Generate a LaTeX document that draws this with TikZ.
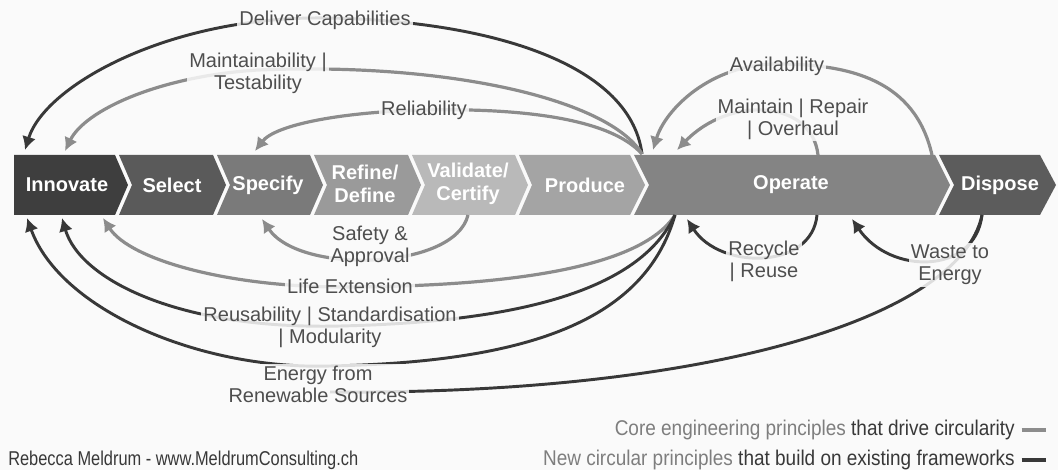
\documentclass[tikz,border=0pt]{standalone}
\usepackage{fontspec}
\setmainfont{Liberation Sans}
\newfontfamily\narrowfont[FakeStretch=0.82]{Liberation Sans}
\newfontfamily\keyfont[FakeStretch=0.89]{Liberation Sans}
\usetikzlibrary{arrows.meta}

\definecolor{bgcol}{HTML}{FAFAFA}
\definecolor{txtcol}{HTML}{4E4E4E}
\definecolor{corecol}{HTML}{8C8C8C}
\definecolor{newcol}{HTML}{383838}
\definecolor{legcol}{HTML}{7E7E7E}
\definecolor{innocol}{HTML}{3E3E3E}
\definecolor{selcol}{HTML}{5A5A5A}
\definecolor{speccol}{HTML}{7A7A7A}
\definecolor{refcol}{HTML}{9A9A9A}
\definecolor{valcol}{HTML}{B9B9B9}
\definecolor{prodcol}{HTML}{A4A4A4}
\definecolor{opcol}{HTML}{848484}
\definecolor{dispcol}{HTML}{5C5C5C}

\begin{document}
\begin{tikzpicture}[x=0.75pt, y=-0.75pt,
    core/.style={draw=corecol, line width=2.4pt},
    newp/.style={draw=newcol, line width=2.2pt},
    tip/.style={-{Latex[length=10pt,width=10.5pt]}},
    lbl/.style={fill=bgcol, fill opacity=0.85, text opacity=1, text=txtcol,
        align=center, inner sep=1.5pt, font=\fontsize{15}{16.5}\selectfont},
    stage/.style={text=white, align=center, inner sep=0pt,
        font=\bfseries\fontsize{15}{17}\selectfont}]

    \fill[bgcol] (0,0) rectangle (1058,470);
    \useasboundingbox (0,0) rectangle (1058,470);

    % stages
    \fill[innocol] (14,155) -- (115,155) -- (128,185) -- (115,215) -- (14,215) -- cycle;
    \fill[selcol] (119,155) -- (213,155) -- (226,185) -- (213,215) -- (119,215) -- (132,185) -- cycle;
    \fill[speccol] (217,155) -- (310,155) -- (323,185) -- (310,215) -- (217,215) -- (230,185) -- cycle;
    \fill[refcol] (314,155) -- (408,155) -- (421,185) -- (408,215) -- (314,215) -- (327,185) -- cycle;
    \fill[valcol] (412,155) -- (515,155) -- (528,185) -- (515,215) -- (412,215) -- (425,185) -- cycle;
    \fill[prodcol] (519,155) -- (630,155) -- (645,185) -- (630,215) -- (519,215) -- (532,185) -- cycle;
    \fill[opcol] (634,155) -- (935,155) -- (950,185) -- (935,215) -- (634,215) -- (649,185) -- cycle;
    \fill[dispcol] (939,155) -- (1040,155) -- (1056,185) -- (1040,215) -- (939,215) -- (954,185) -- cycle;

    \node[stage] (innovate) at (67,185) {Innovate};
    \node[stage] (select) at (172,185) {Select};
    \node[stage] (specify) at (268,185) {Specify};
    \node[stage] (refine) at (365,184) {Refine/\\Define};
    \node[stage] (validate) at (468,184) {Validate/\\Certify};
    \node[stage] (produce) at (585,185) {Produce};
    \node[stage] (operate) at (791,185) {Operate};
    \node[stage] (dispose) at (1000,185) {Dispose};

    % ends of the loops
    \coordinate (op-a) at (642,154);
    \coordinate (op-b) at (675,215);
    \coordinate (inno-t1) at (25,150);
    \coordinate (inno-t2) at (65,151);
    \coordinate (spec-t) at (255,151);
    \coordinate (op-t1) at (653,150);
    \coordinate (op-t2) at (677,150);
    \coordinate (op-t3) at (818,155);
    \coordinate (op-t4) at (932,155);
    \coordinate (val-b) at (468,215);
    \coordinate (spec-b) at (262,219);
    \coordinate (inno-b1) at (27,218);
    \coordinate (inno-b2) at (62,218);
    \coordinate (inno-b3) at (103,218);
    \coordinate (op-b2) at (817,215);
    \coordinate (op-b3) at (687,219);
    \coordinate (op-b4) at (852,219);
    \coordinate (disp-b) at (982,215);

    % loops above the stages
    \draw[newp, tip] (op-a) .. controls (630,60) and (480,20) .. (325,18)
        .. controls (170,16) and (45,85) .. (inno-t1);
    \draw[core, tip] (op-a) .. controls (610,100) and (450,62) .. (258,70)
        .. controls (160,76) and (85,110) .. (inno-t2);
    \draw[core, tip] (op-a) .. controls (610,118) and (520,108) .. (424,110)
        .. controls (340,112) and (275,125) .. (spec-t);
    \draw[core, tip] (op-t4) .. controls (915,80) and (850,64) .. (777,64)
        .. controls (710,64) and (665,110) .. (op-t1);
    \draw[core, tip] (op-t3) .. controls (812,100) and (730,95) .. (op-t2);

    % loops below the stages
    \draw[core, tip] (val-b) .. controls (455,270) and (300,275) .. (spec-b);
    \draw[core, tip] (op-b) .. controls (640,270) and (500,286) .. (350,287)
        .. controls (230,288) and (130,260) .. (inno-b3);
    \draw[newp, tip] (op-b) .. controls (640,290) and (520,322) .. (340,326)
        .. controls (180,330) and (80,280) .. (inno-b2);
    \draw[newp] (disp-b) .. controls (960,320) and (700,395) .. (330,392);
    \draw[newp, tip] (op-b) .. controls (645,320) and (530,362) .. (330,366)
        .. controls (200,370) and (60,310) .. (inno-b1);
    \draw[newp, tip] (op-b2) .. controls (812,270) and (720,270) .. (op-b3);
    \draw[newp, tip] (disp-b) .. controls (975,275) and (890,275) .. (op-b4);

    % labels
    \node[lbl] (deliver) at (325,20) {Deliver Capabilities};
    \node[lbl] (maintainability) at (258,73) {Maintainability |\\Testability};
    \node[lbl] (reliability) at (424,110) {Reliability};
    \node[lbl] (availability) at (777,66) {Availability};
    \node[lbl] (repair) at (793,119) {Maintain | Repair\\| Overhaul};
    \node[lbl] (safety) at (370,246) {Safety \&\\Approval};
    \node[lbl] (lifeext) at (350,286) {Life Extension};
    \node[lbl] (reuse) at (330,327) {Reusability | Standardisation\\| Modularity};
    \node[lbl] (energy) at (318,384) {Energy from\\Renewable Sources};
    \node[lbl] (recycle) at (764,261) {Recycle\\| Reuse};
    \node[lbl] (waste) at (950,265) {Waste to\\Energy};

    % legend
    \node[anchor=east, inner sep=0pt, font=\keyfont\fontsize{16}{18}\selectfont] (corekey) at (1015,430)
        {\textcolor{legcol}{Core engineering principles} \textcolor{newcol}{that drive circularity}};
    \node[anchor=east, inner sep=0pt, font=\keyfont\fontsize{16}{18}\selectfont] (newkey) at (1015,460)
        {\textcolor{legcol}{New circular principles} \textcolor{newcol}{that build on existing frameworks}};
    \draw[core, line width=3pt] ([xshift=5pt]corekey.east) -- ++(24,0);
    \draw[newp, line width=3pt] ([xshift=5pt]newkey.east) -- ++(24,0);
    \node[anchor=west, inner sep=0pt, text=newcol, font=\narrowfont\fontsize{15}{17}\selectfont] (author) at (8,460)
        {Rebecca Meldrum - www.MeldrumConsulting.ch};

\end{tikzpicture}
\end{document}
